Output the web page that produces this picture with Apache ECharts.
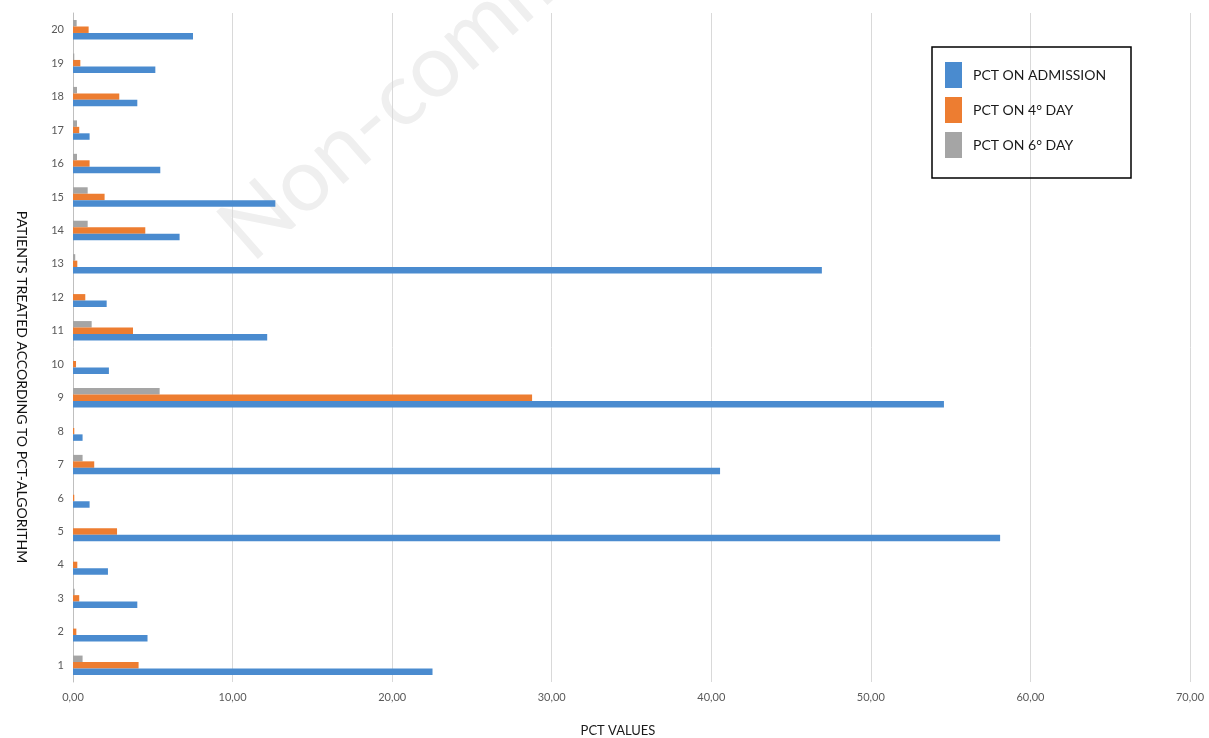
<!DOCTYPE html>
<html>
<head>
<meta charset="utf-8">
<script src="https://cdn.jsdelivr.net/npm/echarts@6/dist/echarts.min.js"></script>
<style>
  html, body { margin: 0; padding: 0; background: #fff; }
  #chart { width: 1209px; height: 738px; }
</style>
</head>
<body>
<div id="chart"></div>
<script>
// Patients 1..20 (bottom to top)
const patients = ['1','2','3','4','5','6','7','8','9','10','11','12','13','14','15','16','17','18','19','20'];

// PCT values per patient
const pctAdmission = [22.53, 4.67, 4.03, 2.19, 58.10, 1.04, 40.55, 0.60, 54.58, 2.25, 12.17, 2.11, 46.93, 6.68, 12.68, 5.47, 1.04, 4.03, 5.16, 7.52];
const pctDay4      = [4.11, 0.21, 0.39, 0.27, 2.76, 0.08, 1.33, 0.08, 28.77, 0.19, 3.76, 0.77, 0.27, 4.53, 1.98, 1.04, 0.39, 2.90, 0.46, 0.98];
const pctDay6      = [0.60, 0, 0.10, 0, 0, 0, 0.60, 0, 5.43, 0, 1.17, 0, 0.14, 0.92, 0.92, 0.25, 0.25, 0.25, 0.08, 0.23];

const seriesNames = ['PCT ON ADMISSION', 'PCT ON 4° DAY', 'PCT ON 6° DAY'];
const xTicks = [0, 10, 20, 30, 40, 50, 60, 70];

const FONT = 'Lato, "Liberation Sans", sans-serif';
const colors = ['#4a8bcf', '#ed7d31', '#a5a5a5'];

const chart = echarts.init(document.getElementById('chart'));

const barCommon = { type: 'bar', barGap: '0%', barCategoryGap: '42%' };

chart.setOption({
  backgroundColor: '#ffffff',
  animation: false,
  textStyle: { fontFamily: FONT },
  grid: { left: 73, right: 19, top: 13, bottom: 56, containLabel: false },
  xAxis: {
    type: 'value',
    min: xTicks[0],
    max: xTicks[xTicks.length - 1],
    interval: 10,
    axisLine: { show: false },
    axisTick: { show: false },
    splitLine: { show: true, lineStyle: { color: '#d9d9d9', width: 1 } },
    axisLabel: {
      color: '#595959', fontSize: 11, fontFamily: FONT, margin: 10,
      formatter: v => v.toFixed(2).replace('.', ',')
    }
  },
  yAxis: {
    type: 'category',
    data: patients,
    axisLine: { show: true, lineStyle: { color: '#bfbfbf', width: 1 } },
    axisTick: { show: false },
    axisLabel: { color: '#595959', fontSize: 11, fontFamily: FONT, margin: 9 }
  },
  legend: {
    orient: 'vertical',
    left: 945,
    top: 62,
    padding: 0,
    itemWidth: 17,
    itemHeight: 26,
    itemGap: 9,
    icon: 'rect',
    data: seriesNames,
    textStyle: { color: '#1a1a1a', fontSize: 14, fontFamily: FONT, padding: [0, 0, 0, 6] }
  },
  graphic: [
    {
      type: 'text',
      z: -10,
      x: 262, y: 276,
      rotation: 0.72,
      style: {
        text: 'Non-commercial use only',
        fill: '#efefef',
        font: '88px ' + FONT,
        verticalAlign: 'bottom'
      }
    },
    {
      type: 'rect',
      shape: { x: 932, y: 47, width: 199, height: 131 },
      style: { fill: 'none', stroke: '#000', lineWidth: 1.5 },
      z: 5
    },
    {
      type: 'text',
      x: 22, y: 387,
      rotation: -Math.PI / 2,
      style: {
        text: 'PATIENTS TREATED ACCORDING TO PCT-ALGORITHM',
        fill: '#111',
        font: '14px ' + FONT,
        align: 'center',
        verticalAlign: 'middle'
      }
    },
    {
      type: 'text',
      x: 618, y: 731,
      style: {
        text: 'PCT VALUES',
        fill: '#1a1a1a',
        font: '13px ' + FONT,
        align: 'center',
        verticalAlign: 'middle'
      }
    }
  ],
  // horizontal bars stack top-down in series order: 6th day, 4th day, admission
  series: [
    Object.assign({ name: seriesNames[2], data: pctDay6, itemStyle: { color: colors[2] } }, barCommon),
    Object.assign({ name: seriesNames[1], data: pctDay4, itemStyle: { color: colors[1] } }, barCommon),
    Object.assign({ name: seriesNames[0], data: pctAdmission, itemStyle: { color: colors[0] } }, barCommon)
  ]
});
</script>
</body>
</html>
